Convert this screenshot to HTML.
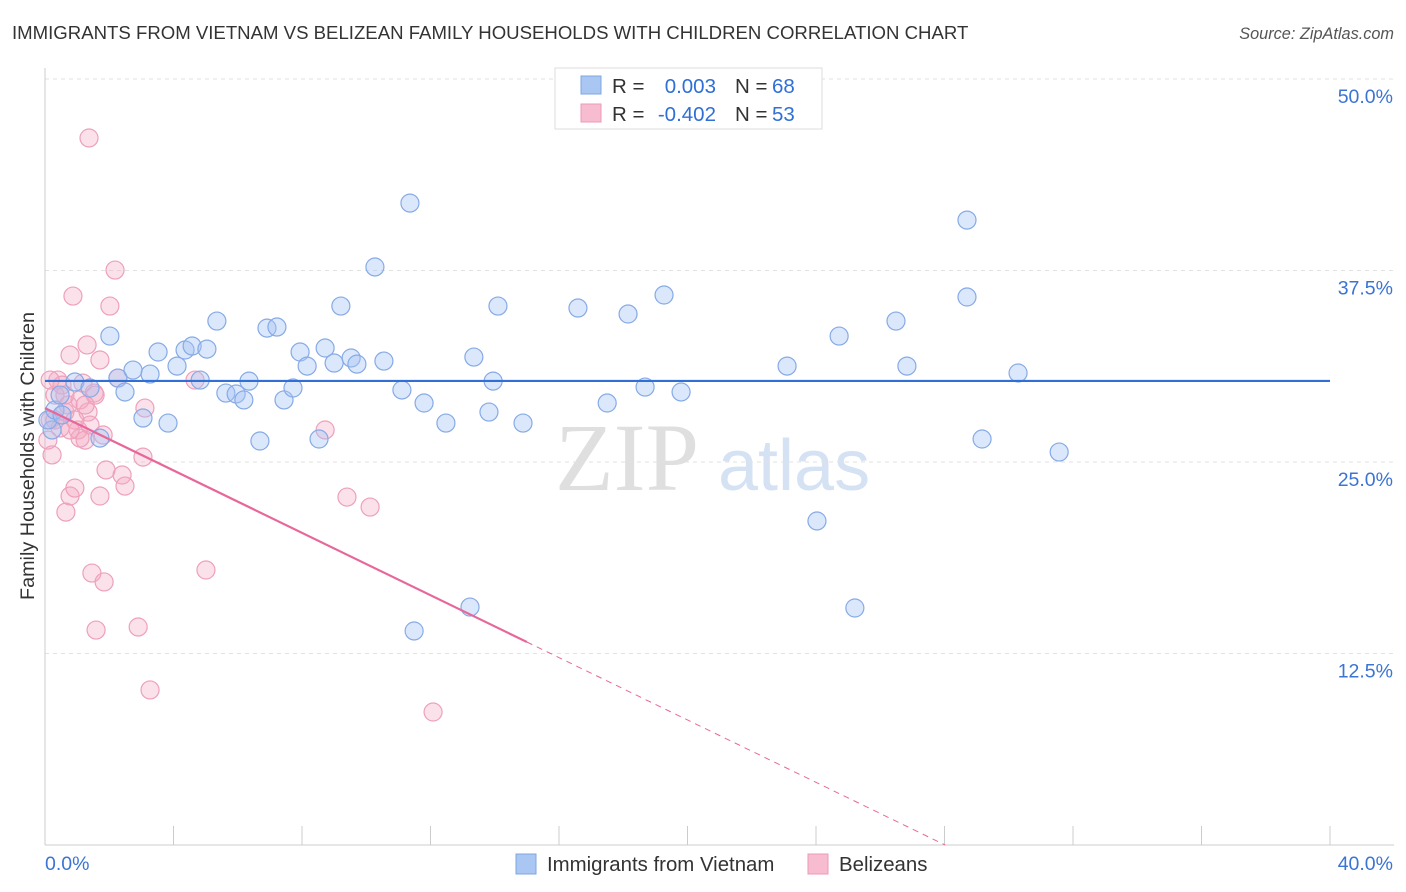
<!DOCTYPE html>
<html><head><meta charset="utf-8"><style>
body{margin:0;background:#fff;font-family:"Liberation Sans",sans-serif;}
svg{display:block}
</style></head><body>
<svg id="chart" width="1406" height="892">
<text x="12" y="39" font-size="18.6" fill="#333">IMMIGRANTS FROM VIETNAM VS BELIZEAN FAMILY HOUSEHOLDS WITH CHILDREN CORRELATION CHART</text>
<text x="1394" y="39" font-size="16.3" fill="#555" font-style="italic" text-anchor="end">Source: ZipAtlas.com</text>
<g><text x="555" y="490" font-size="96" font-family="Liberation Serif" fill="#d8d8d8" opacity="0.8">ZIP</text><text x="718" y="490" font-size="72" fill="#c4d6f0" opacity="0.7">atlas</text></g>
<g id="grid"></g><g id="axes"></g><g id="marks"></g>
<text transform="translate(34,456) rotate(-90)" font-size="19.8" fill="#333" text-anchor="middle">Family Households with Children</text>
<g>
<rect x="555" y="68" width="267" height="61" fill="#fff" stroke="#ddd"/>
<rect x="581" y="76" width="20" height="18" fill="#a9c7f2" stroke="#7fa6e0"/>
<rect x="581" y="104" width="20" height="18" fill="#f7bcd0" stroke="#ee9ab8"/>
<g font-size="20.5" fill="#333">
<text x="612" y="93">R =</text><text x="716" y="93" text-anchor="end" fill="#2f6fd6">0.003</text><text x="735" y="93">N =</text><text x="772" y="93" fill="#2f6fd6">68</text>
<text x="612" y="121">R =</text><text x="716" y="121" text-anchor="end" fill="#2f6fd6">-0.402</text><text x="735" y="121">N =</text><text x="772" y="121" fill="#2f6fd6">53</text>
</g>
</g>
<g>
<rect x="516" y="854" width="20" height="20" fill="#a9c7f2" stroke="#7fa6e0"/>
<text x="547" y="871" font-size="20.4" fill="#333">Immigrants from Vietnam</text>
<rect x="808" y="854" width="20" height="20" fill="#f7bcd0" stroke="#ee9ab8"/>
<text x="839" y="871" font-size="20.4" fill="#333">Belizeans</text>
</g>
</svg>
<script>
const yTicks=[12.5,25,37.5,50];
const yTickLabels=["12.5%","25.0%","37.5%","50.0%"];
const xTicks=[0,4,8,12,16,20,24,28,32,36,40];
const blueX=[0.22,0.09,0.31,0.47,0.93,0.53,1.40,1.71,2.02,2.27,2.49,2.74,3.27,3.05,3.52,3.83,4.11,4.36,4.58,4.83,5.04,5.35,5.63,5.95,6.19,6.35,6.69,6.91,7.22,7.44,7.72,7.94,8.16,8.53,8.72,9.00,9.21,9.53,9.71,10.27,10.55,11.11,11.36,11.49,11.80,12.48,13.23,13.35,13.82,13.95,14.10,14.88,16.59,17.50,18.15,18.68,19.27,19.80,23.10,24.03,24.72,25.21,26.49,26.83,28.70,28.70,29.17,30.29,31.57];
const blueY=[27.09,27.74,28.39,29.37,30.22,28.07,29.83,26.56,33.22,30.48,29.57,31.00,30.74,27.87,32.18,27.54,31.26,32.31,32.57,30.35,32.37,34.20,29.50,29.44,29.05,30.28,26.37,33.74,33.81,29.05,29.83,32.18,31.26,26.50,32.44,31.46,35.18,31.79,31.39,37.73,31.59,29.70,41.90,13.97,28.85,27.54,15.53,31.85,28.26,30.28,35.18,27.54,35.05,28.85,34.66,29.89,35.90,29.57,31.26,21.15,33.22,15.47,34.20,31.26,40.79,35.77,26.50,30.81,25.65];
const pinkX=[0.09,0.22,0.16,0.31,0.40,0.53,0.62,0.72,0.78,0.87,0.65,0.78,0.93,1.03,1.09,1.18,1.25,1.31,1.34,1.40,1.46,1.53,1.59,1.71,1.71,1.81,1.84,1.90,2.02,2.18,2.27,2.40,2.49,2.90,3.05,3.11,3.27,4.67,5.01,1.37,8.72,9.40,10.12,12.08,0.47,0.31,0.93,1.09,1.56,1.25,0.62,0.78,0.16];
const pinkY=[26.43,25.46,27.74,29.37,30.35,30.02,28.26,28.72,31.98,35.83,21.73,22.78,23.30,27.09,29.05,30.15,26.43,32.64,28.26,27.41,17.75,29.50,14.03,22.78,31.66,26.76,17.17,24.48,35.18,37.53,30.48,24.15,23.43,14.23,25.32,28.52,10.12,30.35,17.95,46.15,27.09,22.71,22.06,8.68,27.22,27.74,27.74,26.56,29.37,28.72,29.37,27.09,30.35];
const blueTrendX=[0,40], blueTrendY=[30.29,30.29];
const pinkTrendX=[0,15.0,28.02], pinkTrendY=[28.52,13.25,0];
const NS="http://www.w3.org/2000/svg";
const X0=45,X1=1330,Y0=845,Y50=79;
function sx(v){return X0+(X1-X0)*v/40;}
function sy(v){return Y0-(Y0-Y50)*v/50;}
function mk(tag,attrs,parent){const e=document.createElementNS(NS,tag);for(const k in attrs)e.setAttribute(k,attrs[k]);document.getElementById(parent).appendChild(e);return e;}
yTicks.forEach((t,i)=>{
 const l=mk('line',{x1:X0,x2:1394,y1:sy(t),y2:sy(t),stroke:'#e2e2e2','stroke-dasharray':'4,4'},'grid');
 
 
 const tx=mk('text',{x:1393,y:sy(t)+24,'font-size':19.5,fill:'#3b74d4','text-anchor':'end'},'axes');
 tx.textContent=yTickLabels[i];
 
 
});
const ax=mk('line',{x1:X0,x2:X0,y1:68,y2:Y0,stroke:'#ccc'},'axes');


const bx=mk('line',{x1:X0,x2:1394,y1:Y0,y2:Y0,stroke:'#ccc'},'axes');


xTicks.forEach(t=>{
 const l=mk('line',{x1:sx(t),x2:sx(t),y1:826,y2:Y0,stroke:'#ccc'},'axes');
 
 
});
const xl0=mk('text',{x:45,y:870,'font-size':19.5,fill:'#3b74d4'},'axes');xl0.textContent='0.0%';


const xl1=mk('text',{x:1393,y:870,'font-size':19.5,fill:'#3b74d4','text-anchor':'end'},'axes');xl1.textContent='40.0%';


pinkX.forEach((x,i)=>{
 const c=mk('circle',{cx:sx(x),cy:sy(pinkY[i]),r:9,fill:'rgba(244,170,196,0.35)',stroke:'#eea0bc','stroke-width':1.2},'marks');
 
 
});
blueX.forEach((x,i)=>{
 const c=mk('circle',{cx:sx(x),cy:sy(blueY[i]),r:9,fill:'rgba(164,194,244,0.4)',stroke:'#86aae6','stroke-width':1.2},'marks');
 
 
});
const bl=mk('line',{x1:sx(blueTrendX[0]),y1:sy(blueTrendY[0]),x2:sx(blueTrendX[1]),y2:sy(blueTrendY[1]),stroke:'#2f6fd6','stroke-width':2.2},'marks');


const pl=mk('line',{x1:sx(pinkTrendX[0]),y1:sy(pinkTrendY[0]),x2:sx(pinkTrendX[1]),y2:sy(pinkTrendY[1]),stroke:'#e8679a','stroke-width':2.2},'marks');


const pd=mk('line',{x1:sx(pinkTrendX[1]),y1:sy(pinkTrendY[1]),x2:sx(pinkTrendX[2]),y2:sy(pinkTrendY[2]),stroke:'#e8679a','stroke-width':1,'stroke-dasharray':'6,5'},'marks');


</script>
</body></html>
